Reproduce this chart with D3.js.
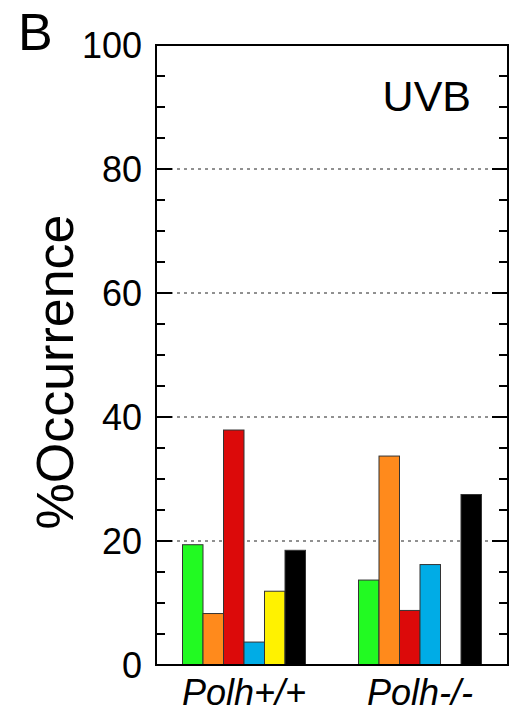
<!DOCTYPE html>
<html>
<head>
<meta charset="utf-8">
<script src="https://cdn.jsdelivr.net/npm/d3@7"></script>
<style>
  body { margin: 0; background: #fff; }
  text { font-family: "Liberation Sans", Arial, Helvetica, sans-serif; }
</style>
</head>
<body>
<svg id="chart" width="512" height="715"></svg>
<script>
const groups = ["Polh+/+", "Polh-/-"];
const series = ["s1", "s2", "s3", "s4", "s5", "s6"];
const seriesColors = ["#22fa22", "#ff8a1c", "#dc0a0a", "#00ace6", "#fff200", "#000000"];
const values = {
  "Polh+/+": [19.4, 8.3, 37.9, 3.7, 11.9, 18.5],
  "Polh-/-": [13.7, 33.7, 8.8, 16.2, 0, 27.5]
};
const yTicks = [0, 20, 40, 60, 80, 100];
const minorTicks = d3.range(0, 101, 5);
const gridLines = [20, 40, 60, 80];

const svg = d3.select("#chart");
const plotLeft = 156, plotRight = 508, plotTop = 45, plotBottom = 665;

const x = d3.scaleBand().domain(groups).range([plotLeft, plotRight]);
const y = d3.scaleLinear().domain([0, 100]).range([plotBottom, plotTop]);
const groupWidth = 123;
const xs = d3.scaleBand().domain(series).range([0, groupWidth]);

// dashed gridlines
svg.selectAll("line.grid")
  .data(gridLines).enter()
  .append("line")
  .attr("x1", plotLeft).attr("x2", plotRight)
  .attr("y1", d => y(d)).attr("y2", d => y(d))
  .attr("stroke", "#222")
  .attr("stroke-width", 1)
  .attr("stroke-dasharray", "3,4");

// bars
const rows = [];
groups.forEach(g => values[g].forEach((v, i) => rows.push({group: g, key: series[i], value: v, color: seriesColors[i]})));

svg.selectAll("rect.bar")
  .data(rows.filter(d => d.value > 0)).enter()
  .append("rect")
  .attr("x", d => x(d.group) + (x.bandwidth() - groupWidth) / 2 + xs(d.key))
  .attr("width", xs.bandwidth())
  .attr("y", d => y(d.value))
  .attr("height", d => y(0) - y(d.value))
  .attr("fill", d => d.color)
  .attr("stroke", "#333")
  .attr("stroke-width", 1);

// ticks, inward on both sides
const isMajor = d => d % 20 === 0;
svg.selectAll("line.tl")
  .data(minorTicks).enter()
  .append("line")
  .attr("x1", plotLeft).attr("x2", d => plotLeft + (isMajor(d) ? 16 : 9))
  .attr("y1", d => y(d)).attr("y2", d => y(d))
  .attr("stroke", "#000").attr("stroke-width", 2);
svg.selectAll("line.tr")
  .data(minorTicks).enter()
  .append("line")
  .attr("x1", plotRight).attr("x2", d => plotRight - (isMajor(d) ? 16 : 9))
  .attr("y1", d => y(d)).attr("y2", d => y(d))
  .attr("stroke", "#000").attr("stroke-width", 2);

// frame
svg.append("rect")
  .attr("x", plotLeft).attr("y", plotTop)
  .attr("width", plotRight - plotLeft).attr("height", plotBottom - plotTop)
  .attr("fill", "none")
  .attr("stroke", "#000")
  .attr("stroke-width", 2);

// tick labels
svg.selectAll("text.yl")
  .data(yTicks).enter()
  .append("text")
  .attr("x", 142)
  .attr("y", d => y(d))
  .attr("dy", "0.36em")
  .attr("text-anchor", "end")
  .attr("font-size", 36)
  .text(d => d);

svg.selectAll("text.xl")
  .data(groups).enter()
  .append("text")
  .attr("x", d => x(d) + x.bandwidth() / 2)
  .attr("y", 705)
  .attr("text-anchor", "middle")
  .attr("font-size", 36)
  .attr("font-style", "italic")
  .text(d => d);

// y title
svg.append("text")
  .attr("transform", "translate(73,372) rotate(-90)")
  .attr("text-anchor", "middle")
  .attr("font-size", 52)
  .text("%Occurrence");

svg.append("text")
  .attr("x", 18).attr("y", 50)
  .attr("font-size", 52)
  .text("B");

svg.append("text")
  .attr("x", 471).attr("y", 111)
  .attr("text-anchor", "end")
  .attr("font-size", 43)
  .text("UVB");
</script>
</body>
</html>
